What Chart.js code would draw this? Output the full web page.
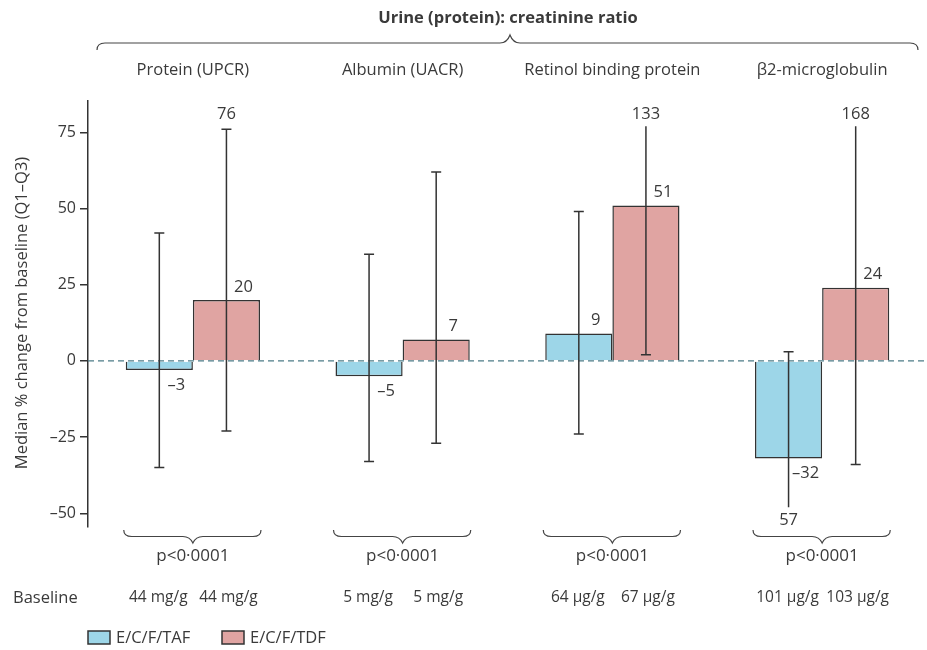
<!DOCTYPE html>
<html>
<head>
<meta charset="utf-8">
<script src="https://cdn.jsdelivr.net/npm/chart.js@4/dist/chart.umd.min.js"></script>
<style>
  html, body { margin: 0; padding: 0; background: #ffffff; }
  #wrap { width: 927px; height: 650px; position: relative; }
</style>
</head>
<body>
<div id="wrap"><canvas id="c" width="927" height="650"></canvas></div>
<script>
// ---- data ----
const chartTitle = 'Urine (protein): creatinine ratio';
const yAxisTitle = 'Median % change from baseline (Q1–Q3)';
const categories = ['Protein (UPCR)', 'Albumin (UACR)', 'Retinol binding protein', 'β2-microglobulin'];
const seriesNames = ['E/C/F/TAF', 'E/C/F/TDF'];
const tafMedian = [-3, -5, 9, -32];
const tafQ1 = [-35, -33, -24, -57];
const tafQ3 = [42, 35, 49, 3];
const tdfMedian = [20, 7, 51, 24];
const tdfQ1 = [-23, -27, 2, -34];
const tdfQ3 = [76, 62, 133, 168];
const yTicks = [-50, -25, 0, 25, 50, 75];
const pValues = ['p<0·0001', 'p<0·0001', 'p<0·0001', 'p<0·0001'];
const baselineLabel = 'Baseline';
const baselineTAF = ['44 mg/g', '5 mg/g', '64 µg/g', '101 µg/g'];
const baselineTDF = ['44 mg/g', '5 mg/g', '67 µg/g', '103 µg/g'];

// ---- style ----
const FONT = "'Open Sans', 'Liberation Sans', sans-serif";
const TXT = '#3a3a3a';
const DARK = '#333333';
const colTAF = '#9dd6e8';
const colTDF = '#e0a4a2';
const Y_MIN = -54.5, Y_MAX = 85.3;
const CLIP_TOP = 77, CLIP_BOTTOM = -48;

const q1s = [tafQ1, tdfQ1];
const q3s = [tafQ3, tdfQ3];
const meds = [tafMedian, tdfMedian];

function fmt(v) { return v < 0 ? '–' + Math.abs(v) : String(v); }

function brace(ctx, x1, x2, y, tipX, dir, endOff, tipOff) {
  // dir = 1: ends go down, tip up (top brace); dir = -1: ends up, tip down
  const r = 8, r2 = 10;
  ctx.beginPath();
  ctx.moveTo(x1, y + dir * endOff);
  ctx.quadraticCurveTo(x1, y, x1 + r, y);
  ctx.lineTo(tipX - r2, y);
  ctx.quadraticCurveTo(tipX - 3, y, tipX, y - dir * tipOff);
  ctx.quadraticCurveTo(tipX + 3, y, tipX + r2, y);
  ctx.lineTo(x2 - r, y);
  ctx.quadraticCurveTo(x2, y, x2, y + dir * endOff);
  ctx.stroke();
}

const extras = {
  id: 'extras',
  afterDatasetsDraw(chart) {
    const ctx = chart.ctx;
    const ys = chart.scales.y;
    const ca = chart.chartArea;
    ctx.save();
    // zero dashed line
    const y0 = ys.getPixelForValue(0);
    ctx.strokeStyle = '#4d7c88';
    ctx.lineWidth = 1.3;
    ctx.setLineDash([6, 4]);
    ctx.beginPath();
    ctx.moveTo(ca.left, y0);
    ctx.lineTo(ca.right, y0);
    ctx.stroke();
    ctx.setLineDash([]);

    // error bars and labels
    for (let d = 0; d < 2; d++) {
      const meta = chart.getDatasetMeta(d);
      meta.data.forEach((bar, j) => {
        const x = bar.x;
        const q1 = q1s[d][j], q3 = q3s[d][j], m = meds[d][j];
        const topV = Math.min(q3, CLIP_TOP), botV = Math.max(q1, CLIP_BOTTOM);
        const yt = ys.getPixelForValue(topV), yb = ys.getPixelForValue(botV);
        ctx.strokeStyle = DARK;
        ctx.lineWidth = 1.5;
        ctx.beginPath();
        ctx.moveTo(x, yt); ctx.lineTo(x, yb);
        if (q3 <= CLIP_TOP) { ctx.moveTo(x - 5, yt); ctx.lineTo(x + 5, yt); }
        if (q1 >= CLIP_BOTTOM) { ctx.moveTo(x - 5, yb); ctx.lineTo(x + 5, yb); }
        ctx.stroke();
        ctx.fillStyle = TXT;
        ctx.font = '16.5px ' + FONT;
        ctx.textAlign = 'center';
        ctx.textBaseline = 'middle';
        if (q3 > yTicks[yTicks.length - 1]) ctx.fillText(String(q3), x, ys.getPixelForValue(CLIP_TOP) - 12);
        if (q1 < yTicks[0]) ctx.fillText(String(Math.abs(q1)), x, ys.getPixelForValue(CLIP_BOTTOM) + 13);
        const ym = ys.getPixelForValue(m);
        if (m >= 0) ctx.fillText(fmt(m), x + 17, ym - 13);
        else ctx.fillText(fmt(m), x + 17, ym + 15);
      });
    }

    // top title + brace
    ctx.fillStyle = TXT;
    ctx.font = 'bold 16.5px ' + FONT;
    ctx.textAlign = 'center';
    ctx.textBaseline = 'middle';
    ctx.fillText(chartTitle, 508, 18);
    ctx.strokeStyle = '#444';
    ctx.lineWidth = 1.2;
    brace(ctx, 97, 918, 43, 510, 1, 7, 8);

    // category labels, bottom braces, p values, baseline
    const m0 = chart.getDatasetMeta(0), m1 = chart.getDatasetMeta(1);
    categories.forEach((c, j) => {
      const b0 = m0.data[j], b1 = m1.data[j];
      const cx = (b0.x + b1.x) / 2;
      ctx.fillStyle = TXT;
      ctx.font = '16.5px ' + FONT;
      ctx.fillText(c, cx, 70);
      const xl = b0.x - b0.width / 2 - 2, xr = b1.x + b1.width / 2 + 1;
      ctx.strokeStyle = '#444';
      ctx.lineWidth = 1.2;
      brace(ctx, xl, xr, 536.5, cx, -1, 6.5, 6.5);
      ctx.font = '17px ' + FONT;
      ctx.fillText(pValues[j], cx, 556);
      ctx.font = '15.5px ' + FONT;
      ctx.fillText(baselineTAF[j], b0.x - 1, 598);
      ctx.fillText(baselineTDF[j], b1.x + 2, 598);
    });
    ctx.textAlign = 'left';
    ctx.font = '16.5px ' + FONT;
    ctx.fillText(baselineLabel, 13, 598);

    // legend
    chart.data.datasets.forEach((ds, i) => {
      const bx = i === 0 ? 88 : 222;
      ctx.fillStyle = ds.backgroundColor;
      ctx.fillRect(bx, 631, 22, 13);
      ctx.strokeStyle = DARK;
      ctx.lineWidth = 1.5;
      ctx.strokeRect(bx, 631, 22, 13);
      ctx.fillStyle = TXT;
      ctx.textAlign = 'left';
      ctx.fillText(ds.label, bx + 28, 638);
    });

    // y-axis title
    ctx.save();
    ctx.translate(22, 313);
    ctx.rotate(-Math.PI / 2);
    ctx.textAlign = 'center';
    ctx.fillStyle = TXT;
    ctx.font = '16.5px ' + FONT;
    ctx.fillText(yAxisTitle, 0, 0);
    ctx.restore();
    ctx.restore();
  }
};

new Chart(document.getElementById('c'), {
  type: 'bar',
  data: {
    labels: categories,
    datasets: [
      { label: seriesNames[0], data: tafMedian, backgroundColor: colTAF, borderColor: DARK, borderWidth: 1.5 },
      { label: seriesNames[1], data: tdfMedian, backgroundColor: colTDF, borderColor: DARK, borderWidth: 1.5 }
    ]
  },
  options: {
    responsive: false,
    animation: false,
    devicePixelRatio: 1,
    layout: { padding: { top: 101, bottom: 123, left: 0, right: 0 } },
    datasets: { bar: { categoryPercentage: 0.64, barPercentage: 1.0 } },
    plugins: { legend: { display: false }, tooltip: { enabled: false } },
    scales: {
      x: { display: false },
      y: {
        min: Y_MIN, max: Y_MAX,
        afterBuildTicks: (s) => { s.ticks = yTicks.map(v => ({ value: v })); },
        afterFit: (s) => { s.width = 88; },
        border: { display: true, color: DARK, width: 1.5 },
        grid: { display: true, drawOnChartArea: false, drawTicks: true, tickLength: 8, color: DARK, lineWidth: 1.5 },
        ticks: { color: TXT, padding: 4, font: { family: FONT, size: 16 }, callback: (v) => fmt(v) }
      }
    }
  },
  plugins: [extras]
});
</script>
</body>
</html>
